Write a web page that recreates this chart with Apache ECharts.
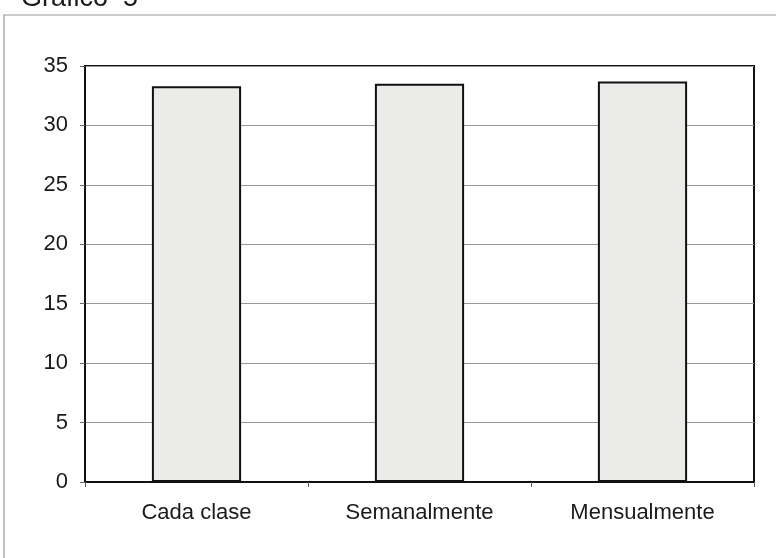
<!DOCTYPE html>
<html>
<head>
<meta charset="utf-8">
<script src="https://cdn.jsdelivr.net/npm/echarts@6/dist/echarts.min.js"></script>
<style>
html, body { margin: 0; padding: 0; background: #fff; }
#main { width: 776px; height: 558px; }
</style>
</head>
<body>
<div id="main"></div>
<script>
var categorias = ['Cada clase', 'Semanalmente', 'Mensualmente'];
var valores = [33.3, 33.5, 33.7];
var yTicks = [0, 5, 10, 15, 20, 25, 30, 35];

var myChart = echarts.init(document.getElementById('main'));

myChart.setOption({
    animation: false,
    backgroundColor: '#fff',
    title: {
        text: 'Gráfico  5',
        left: 16,
        top: -20,
        textStyle: { fontFamily: 'Liberation Sans', fontSize: 27, fontWeight: 'normal', color: '#1a1a1a' }
    },
    graphic: [{
        type: 'rect',
        shape: { x: 4, y: 15, width: 780, height: 560 },
        style: { fill: 'none', stroke: '#999', lineWidth: 1.2 },
        z: -1
    }],
    grid: {
        left: 85, right: 22, top: 66, bottom: 76,
        show: true,
        borderColor: '#111',
        borderWidth: 2
    },
    xAxis: {
        type: 'category',
        data: categorias,
        axisLine: { lineStyle: { color: '#111', width: 2 } },
        axisTick: { show: true, alignWithLabel: false, length: 5, lineStyle: { color: '#555' } },
        axisLabel: { fontFamily: 'Liberation Sans', fontSize: 22, color: '#1a1a1a', margin: 20 }
    },
    yAxis: {
        type: 'value',
        min: yTicks[0],
        max: yTicks[yTicks.length - 1],
        interval: 5,
        axisLine: { show: true, lineStyle: { color: '#111', width: 2 } },
        axisTick: { show: true, length: 5, lineStyle: { color: '#666' } },
        axisLabel: { fontFamily: 'Liberation Sans', fontSize: 22, color: '#1a1a1a', margin: 17 },
        splitLine: { lineStyle: { color: '#999', width: 1 } }
    },
    series: [{
        type: 'bar',
        data: valores,
        barWidth: '40%',
        itemStyle: {
            color: '#ebebe9',
            borderColor: '#111',
            borderWidth: 2
        }
    }]
});
</script>
</body>
</html>
